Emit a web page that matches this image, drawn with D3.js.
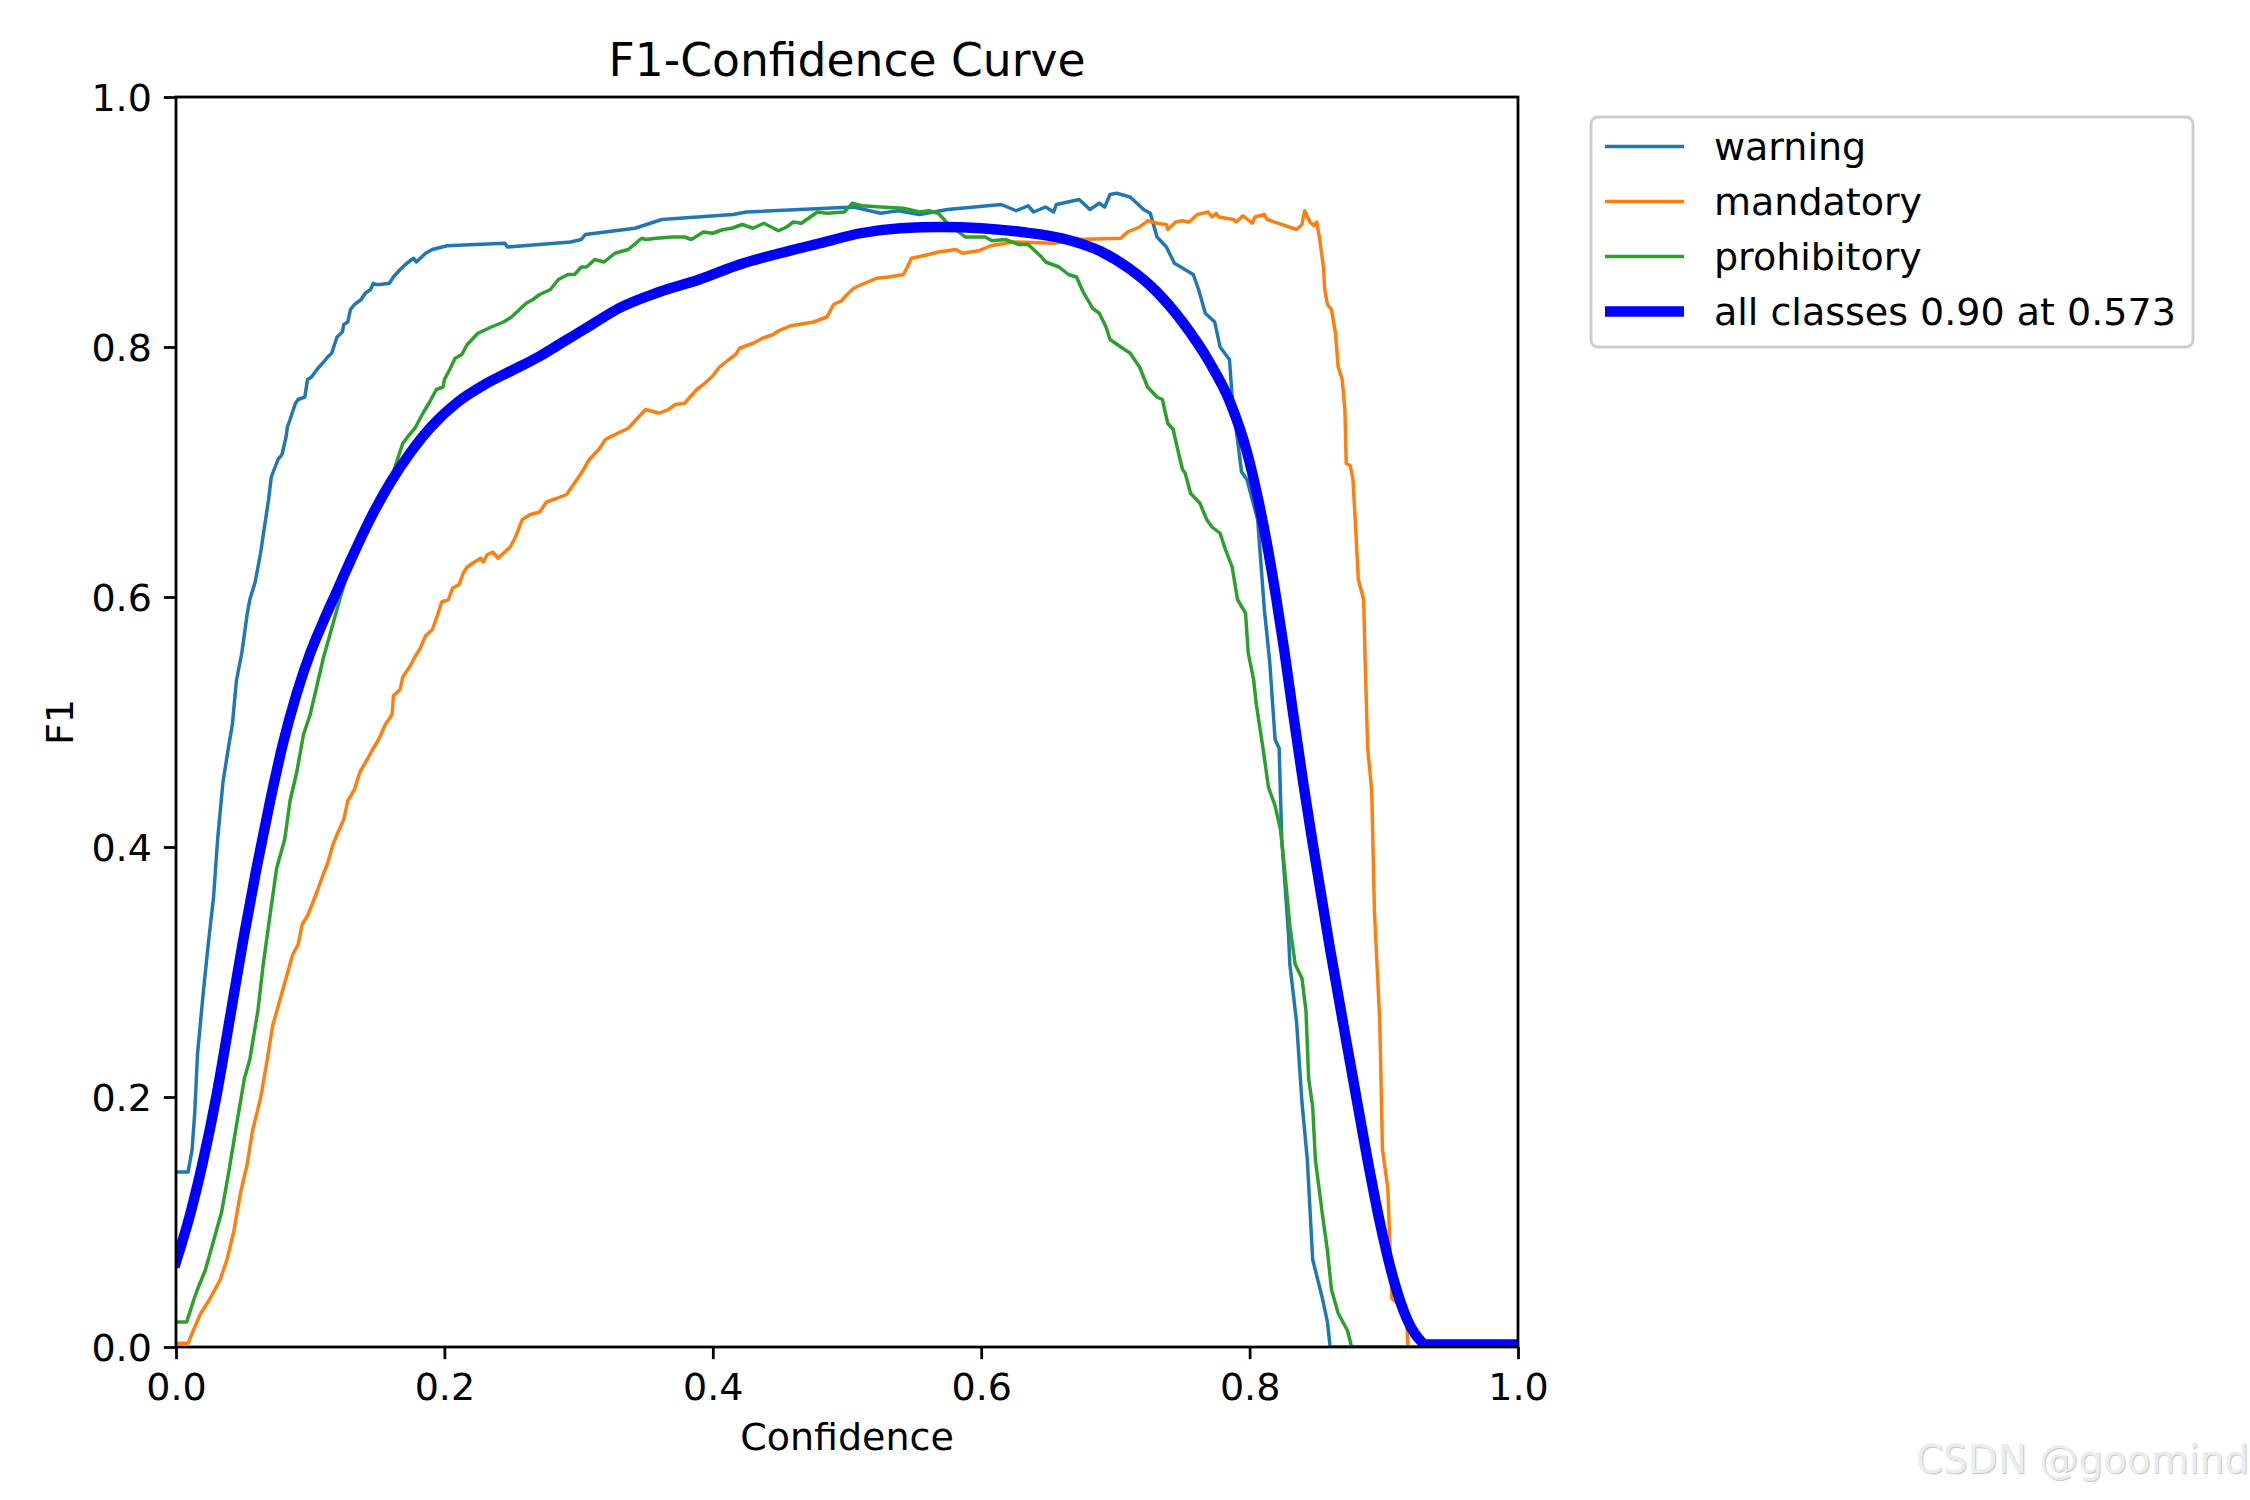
<!DOCTYPE html>
<html>
<head>
<meta charset="utf-8">
<script src="https://cdn.jsdelivr.net/npm/d3@7"></script>
<style>
  html, body { margin: 0; padding: 0; background: #fff; }
  svg { display: block; }
  text { font-family: "DejaVu Sans", sans-serif; }
</style>
</head>
<body>
<svg id="chart" width="2250" height="1500"></svg>
<script>
// ---------------- DATA ----------------
const seriesNames = ["warning", "mandatory", "prohibitory"];
const allLabel = "all classes 0.90 at 0.573";
const xTicks = [0.0, 0.2, 0.4, 0.6, 0.8, 1.0];
const yTicks = [0.0, 0.2, 0.4, 0.6, 0.8, 1.0];

// [confidence, F1]
const warning = [[0,.14],[.009,.14],[.012,.158],[.014,.188],[.016,.234],[.02,.28],[.024,.322],[.028,.36],[.031,.406],[.035,.452],[.039,.479],[.042,.498],[.045,.533],[.049,.555],[.053,.586],[.055,.598],[.059,.612],[.063,.635],[.069,.678],[.071,.696],[.076,.71],[.079,.714],[.082,.728],[.083,.736],[.085,.742],[.089,.755],[.091,.758],[.096,.76],[.098,.774],[.101,.776],[.105,.782],[.11,.788],[.113,.792],[.116,.795],[.12,.808],[.124,.812],[.125,.818],[.128,.82],[.13,.83],[.133,.834],[.138,.838],[.141,.843],[.145,.846],[.147,.851],[.149,.85],[.152,.85],[.159,.851],[.162,.856],[.167,.862],[.172,.867],[.177,.871],[.179,.868],[.186,.875],[.191,.878],[.202,.881],[.245,.883],[.247,.88],[.294,.884],[.302,.886],[.305,.89],[.342,.895],[.362,.902],[.415,.906],[.425,.908],[.505,.912],[.525,.907],[.538,.909],[.554,.906],[.575,.91],[.615,.914],[.626,.909],[.635,.913],[.639,.908],[.648,.912],[.654,.908],[.656,.914],[.673,.918],[.681,.91],[.688,.915],[.692,.912],[.696,.922],[.701,.923],[.711,.92],[.721,.91],[.726,.907],[.731,.888],[.738,.88],[.744,.867],[.758,.858],[.762,.846],[.767,.827],[.774,.82],[.778,.80],[.785,.79],[.787,.76],[.794,.70],[.798,.694],[.806,.662],[.811,.59],[.815,.548],[.819,.486],[.822,.479],[.824,.406],[.829,.33],[.83,.306],[.835,.26],[.839,.196],[.843,.15],[.847,.07],[.854,.04],[.858,.02],[.86,0],[1,0]];

const mandatory = [[0,.003],[.009,.003],[.014,.016],[.018,.026],[.025,.038],[.033,.054],[.038,.07],[.043,.092],[.048,.123],[.053,.146],[.057,.173],[.063,.199],[.068,.23],[.072,.257],[.077,.276],[.082,.295],[.087,.314],[.091,.322],[.094,.338],[.098,.345],[.101,.353],[.105,.364],[.11,.379],[.113,.387],[.117,.402],[.12,.41],[.125,.422],[.128,.437],[.133,.446],[.137,.46],[.143,.471],[.146,.477],[.151,.486],[.156,.498],[.161,.506],[.162,.521],[.167,.526],[.169,.536],[.174,.544],[.178,.552],[.182,.559],[.186,.569],[.191,.574],[.195,.586],[.198,.596],[.203,.598],[.206,.607],[.211,.61],[.214,.619],[.217,.624],[.221,.627],[.227,.631],[.229,.628],[.232,.634],[.236,.636],[.24,.631],[.244,.635],[.249,.64],[.253,.648],[.258,.662],[.264,.666],[.271,.668],[.276,.676],[.284,.679],[.291,.682],[.302,.699],[.308,.71],[.315,.718],[.32,.726],[.329,.731],[.337,.735],[.343,.742],[.35,.75],[.36,.747],[.367,.75],[.372,.754],[.379,.755],[.388,.766],[.393,.77],[.4,.777],[.405,.784],[.412,.79],[.417,.794],[.42,.799],[.43,.803],[.437,.807],[.445,.81],[.449,.813],[.458,.817],[.475,.82],[.485,.824],[.49,.834],[.496,.837],[.5,.842],[.505,.847],[.511,.85],[.522,.855],[.531,.856],[.542,.858],[.545,.864],[.548,.871],[.561,.874],[.568,.876],[.581,.878],[.586,.875],[.598,.877],[.607,.881],[.624,.884],[.654,.883],[.671,.886],[.704,.887],[.709,.892],[.718,.896],[.724,.901],[.731,.899],[.738,.898],[.739,.894],[.745,.9],[.75,.901],[.755,.9],[.761,.906],[.769,.908],[.772,.904],[.775,.907],[.777,.904],[.788,.902],[.79,.9],[.795,.905],[.802,.899],[.804,.904],[.811,.906],[.813,.902],[.835,.894],[.839,.898],[.841,.909],[.845,.9],[.848,.897],[.85,.9],[.852,.888],[.855,.864],[.856,.846],[.858,.834],[.861,.83],[.864,.811],[.866,.784],[.869,.774],[.871,.75],[.872,.707],[.875,.705],[.877,.694],[.879,.656],[.881,.614],[.885,.598],[.886,.552],[.888,.479],[.891,.445],[.893,.349],[.897,.26],[.899,.158],[.903,.127],[.906,.039],[.91,.035],[.917,.023],[.918,0],[1,0]];

const prohibitory = [[0,.02],[.008,.02],[.013,.037],[.016,.046],[.022,.062],[.028,.085],[.034,.108],[.039,.138],[.045,.177],[.051,.215],[.055,.23],[.061,.269],[.065,.306],[.07,.345],[.075,.383],[.081,.406],[.085,.437],[.09,.46],[.095,.49],[.1,.506],[.105,.529],[.11,.552],[.115,.571],[.122,.598],[.128,.62],[.137,.645],[.146,.667],[.155,.685],[.161,.696],[.165,.71],[.169,.723],[.174,.73],[.178,.735],[.18,.739],[.184,.747],[.189,.756],[.194,.766],[.199,.768],[.2,.774],[.204,.782],[.208,.791],[.213,.794],[.217,.802],[.225,.811],[.235,.816],[.244,.82],[.25,.824],[.256,.83],[.261,.835],[.266,.838],[.271,.842],[.279,.846],[.285,.854],[.292,.858],[.297,.858],[.302,.864],[.306,.864],[.312,.87],[.319,.868],[.327,.875],[.337,.878],[.347,.887],[.35,.886],[.358,.887],[.37,.888],[.379,.888],[.384,.886],[.393,.892],[.4,.891],[.405,.893],[.408,.894],[.414,.895],[.422,.898],[.43,.895],[.438,.899],[.449,.893],[.455,.896],[.46,.9],[.466,.899],[.47,.902],[.478,.908],[.485,.907],[.498,.908],[.504,.915],[.511,.913],[.525,.912],[.542,.911],[.554,.908],[.561,.909],[.568,.907],[.574,.9],[.588,.888],[.603,.888],[.608,.885],[.618,.886],[.628,.882],[.635,.882],[.645,.872],[.648,.868],[.658,.864],[.665,.858],[.671,.856],[.676,.844],[.683,.831],[.688,.827],[.693,.816],[.696,.806],[.704,.8],[.711,.795],[.718,.784],[.724,.768],[.731,.76],[.735,.758],[.739,.739],[.743,.734],[.746,.72],[.75,.702],[.752,.699],[.756,.683],[.763,.675],[.768,.662],[.772,.656],[.778,.651],[.782,.638],[.787,.624],[.791,.598],[.797,.587],[.799,.555],[.803,.534],[.805,.514],[.81,.479],[.814,.448],[.819,.433],[.823,.414],[.826,.383],[.83,.337],[.834,.306],[.839,.295],[.842,.269],[.844,.215],[.847,.192],[.849,.15],[.854,.108],[.858,.077],[.861,.046],[.866,.027],[.873,.013],[.876,0],[1,0]];

const allClasses = [[0,.068],[.01,.104],[.02,.148],[.03,.2],[.04,.262],[.05,.325],[.06,.383],[.07,.436],[.08,.484],[.09,.523],[.1,.555],[.11,.581],[.12,.605],[.13,.629],[.145,.663],[.16,.692],[.175,.716],[.19,.736],[.21,.756],[.23,.77],[.25,.781],[.27,.792],[.29,.805],[.31,.818],[.33,.831],[.36,.844],[.39,.854],[.42,.866],[.45,.875],[.48,.883],[.51,.891],[.54,.895],[.57,.896],[.6,.895],[.63,.892],[.66,.887],[.69,.876],[.71,.863],[.73,.845],[.75,.82],[.77,.788],[.785,.757],[.798,.716],[.806,.68],[.813,.642],[.82,.598],[.826,.556],[.832,.51],[.84,.451],[.847,.403],[.86,.318],[.877,.215],[.887,.155],[.897,.1],[.907,.055],[.917,.023],[.925,.008],[.932,.002],[1,.002]];

const seriesData = [warning, mandatory, prohibitory];
const seriesColors = ["#1f77b4", "#ff7f0e", "#2ca02c"];

// ---------------- LAYOUT ----------------
const svg = d3.select("#chart");
const L = 176, R = 1518, T = 97, B = 1347;
const x = d3.scaleLinear().domain([0, 1]).range([L, R]);
const y = d3.scaleLinear().domain([0, 1]).range([B, T]);

svg.append("rect").attr("width", 2250).attr("height", 1500).attr("fill", "#fff");

svg.append("defs").append("clipPath").attr("id", "clip")
  .append("rect").attr("x", L).attr("y", T).attr("width", R - L).attr("height", B - T);

const line = d3.line().x(d => x(d[0])).y(d => y(d[1])).curve(d3.curveLinear);
const smooth = d3.line().x(d => x(d[0])).y(d => y(d[1])).curve(d3.curveMonotoneX);

const g = svg.append("g").attr("clip-path", "url(#clip)");
seriesData.forEach((s, i) => {
  g.append("path").datum(s).attr("d", line)
    .attr("fill", "none").attr("stroke", seriesColors[i])
    .attr("stroke-width", 3.47).attr("stroke-linejoin", "round").attr("stroke-linecap", "square");
});
g.append("path").datum(allClasses).attr("d", smooth)
  .attr("fill", "none").attr("stroke", "#0000ff")
  .attr("stroke-width", 10.4).attr("stroke-linejoin", "round").attr("stroke-linecap", "square");

// axes
const fs = 38;
const xAxis = d3.axisBottom(x).tickValues(xTicks).tickFormat(d3.format(".1f")).tickSizeInner(12.15).tickSizeOuter(0).tickPadding(12);
const yAxis = d3.axisLeft(y).tickValues(yTicks).tickFormat(d3.format(".1f")).tickSizeInner(12.15).tickSizeOuter(0).tickPadding(12);

const gx = svg.append("g").attr("transform", `translate(0,${B})`).call(xAxis);
const gy = svg.append("g").attr("transform", `translate(${L},0)`).call(yAxis);
[gx, gy].forEach(a => {
  a.select(".domain").remove();
  a.selectAll(".tick line").attr("stroke", "#000").attr("stroke-width", 2.78);
  a.selectAll(".tick text").attr("font-size", fs).attr("fill", "#000")
    .attr("font-family", "DejaVu Sans, sans-serif");
});
gx.selectAll(".tick text").attr("dy", null).attr("y", 53);
gy.selectAll(".tick text").attr("dy", "0.36em");

// spines
svg.append("rect").attr("x", L).attr("y", T).attr("width", R - L).attr("height", B - T)
  .attr("fill", "none").attr("stroke", "#000").attr("stroke-width", 2.78);

// title & labels
svg.append("text").attr("x", (L + R) / 2).attr("y", 76).attr("text-anchor", "middle")
  .attr("font-size", 45.6).attr("fill", "#000").text("F1-Confidence Curve");
svg.append("text").attr("x", (L + R) / 2).attr("y", 1450).attr("text-anchor", "middle")
  .attr("font-size", fs).attr("fill", "#000").text("Confidence");
svg.append("text").attr("transform", `translate(73,${(T + B) / 2}) rotate(-90)`)
  .attr("text-anchor", "middle").attr("font-size", fs).attr("fill", "#000").text("F1");

// legend
const lg = svg.append("g");
lg.append("rect").attr("x", 1591).attr("y", 117).attr("width", 602).attr("height", 230)
  .attr("rx", 7).attr("fill", "#fff").attr("fill-opacity", 0.8)
  .attr("stroke", "#cccccc").attr("stroke-width", 2.8);
const legendItems = seriesNames.map((n, i) => ({ name: n, color: seriesColors[i], w: 3.47 }))
  .concat([{ name: allLabel, color: "#0000ff", w: 10.4 }]);
legendItems.forEach((it, i) => {
  const cy = 146.5 + i * 55;
  lg.append("line").attr("x1", 1605).attr("x2", 1684).attr("y1", cy).attr("y2", cy)
    .attr("stroke", it.color).attr("stroke-width", it.w);
  lg.append("text").attr("x", 1714).attr("y", cy).attr("dy", "0.36em")
    .attr("font-size", fs).attr("fill", "#000").text(it.name);
});

// watermark
svg.append("text").attr("x", 2249).attr("y", 1473).attr("text-anchor", "end")
  .attr("font-family", "Liberation Sans, Arial, sans-serif").attr("font-size", 39)
  .attr("fill", "#c8c8c8").attr("transform", "translate(1,1)").text("CSDN @goomind");
svg.append("text").attr("x", 2249).attr("y", 1473).attr("text-anchor", "end")
  .attr("font-family", "Liberation Sans, Arial, sans-serif").attr("font-size", 39)
  .attr("fill", "#ececec").text("CSDN @goomind");
</script>
</body>
</html>
